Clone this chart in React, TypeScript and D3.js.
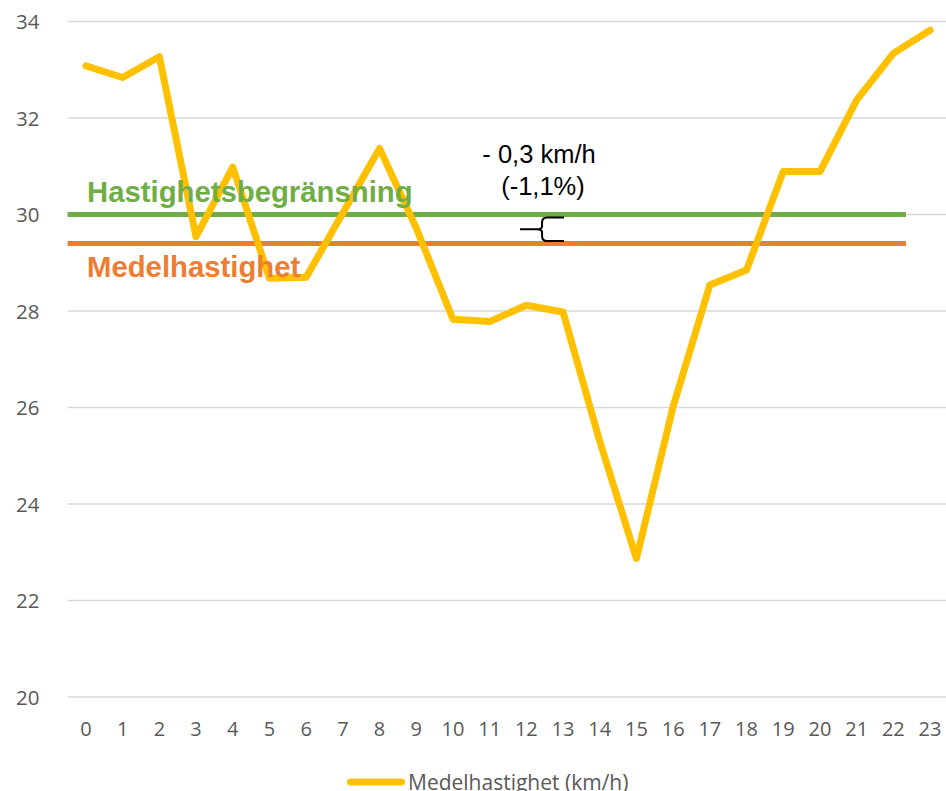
import React from "react";
import * as d3 from "d3";

const hours = ["0","1","2","3","4","5","6","7","8","9","10","11","12","13","14","15","16","17","18","19","20","21","22","23"];
const speeds = [33.08, 32.84, 33.27, 29.54, 30.98, 28.68, 28.7, 30.03, 31.37, 29.72, 27.83, 27.78, 28.12, 27.98, 25.3, 22.87, 26.02, 28.54, 28.85, 30.89, 30.89, 32.37, 33.34, 33.82];
const yTicks = [20, 22, 24, 26, 28, 30, 32, 34];
const speedLimit = 30;
const meanSpeed = 29.4;
const seriesName = "Medelhastighet (km/h)";
const limitLabel = "Hastighetsbegränsning";
const meanLabel = "Medelhastighet";
const annotLines = ["- 0,3 km/h", "(-1,1%)"];

const W = 946, H = 791;
const left = 67.6, right = 948.4, top = 21.5, bottom = 697;

export default function App() {
  const x = d3.scaleBand<string>().domain(hours).range([left, right]);
  const y = d3.scaleLinear().domain([20, 34]).range([bottom, top]);
  const cx = (h: string) => (x(h) as number) + x.bandwidth() / 2;
  const line = d3.line<number>().x((_, i) => cx(hours[i])).y(d => y(d));
  const refEnd = cx("22") + 12.6;
  const font = "'Open Sans', sans-serif";
  const arial = "'Liberation Sans', Arial, sans-serif";
  const bx = cx("13") + 1;
  const yl = y(speedLimit) + 3, ym = y(meanSpeed) - 2.5;
  const bmid = (yl + ym) / 2;
  const brace = `M${bx} ${yl} L${bx - 17} ${yl} Q${bx - 22} ${yl} ${bx - 22} ${yl + 5} L${bx - 22} ${bmid - 3} Q${bx - 22} ${bmid} ${bx - 27} ${bmid} L${bx - 44} ${bmid} M${bx - 27} ${bmid} Q${bx - 22} ${bmid} ${bx - 22} ${bmid + 3} L${bx - 22} ${ym - 5} Q${bx - 22} ${ym} ${bx - 17} ${ym} L${bx} ${ym}`;
  return (
    <svg width={W} height={H} style={{ position: "absolute", left: 0, top: 0, background: "#fff" }}>
      {yTicks.map(t => (
        <g key={t}>
          <line x1={left} x2={right} y1={y(t)} y2={y(t)} stroke="#d9d9d9" strokeWidth={1.3} />
          <text x={39.5} y={y(t) + 7.5} textAnchor="end" fontFamily={font} fontSize={20.5} fill="#595959">{t}</text>
        </g>
      ))}
      {hours.map(h => (
        <text key={h} x={cx(h)} y={735.7} textAnchor="middle" fontFamily={font} fontSize={20} fill="#595959">{h}</text>
      ))}
      <line x1={left} x2={refEnd} y1={y(speedLimit)} y2={y(speedLimit)} stroke="#70AD47" strokeWidth={5} />
      <line x1={left} x2={refEnd} y1={y(meanSpeed)} y2={y(meanSpeed)} stroke="#ED7D31" strokeWidth={5} />
      <path d={line(speeds) || ""} fill="none" stroke="#FFC000" strokeWidth={7} strokeLinejoin="round" strokeLinecap="round" />
      <text x={87} y={202} fontFamily={arial} fontWeight="bold" fontSize={29.3} fill="#70AD47">{limitLabel}</text>
      <text x={87} y={277} fontFamily={arial} fontWeight="bold" fontSize={29.3} fill="#ED7D31">{meanLabel}</text>
      <text x={539} y={163} textAnchor="middle" fontFamily={arial} fontSize={25.5} fill="#000">{annotLines[0]}</text>
      <text x={543} y={195} textAnchor="middle" fontFamily={arial} fontSize={25.5} fill="#000">{annotLines[1]}</text>
      <path d={brace} fill="none" stroke="#000" strokeWidth={2} />
      <line x1={350.5} x2={401.5} y1={782} y2={782} stroke="#FFC000" strokeWidth={7} strokeLinecap="round" />
      <text x={408} y={790} fontFamily={font} fontSize={21} fill="#595959">{seriesName}</text>
    </svg>
  );
}
